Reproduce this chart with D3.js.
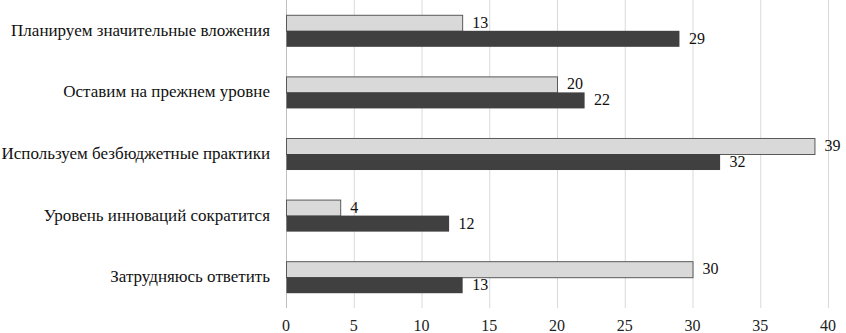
<!DOCTYPE html>
<html>
<head>
<meta charset="utf-8">
<script src="https://cdn.jsdelivr.net/npm/d3@7"></script>
<style>
  body { margin: 0; background: #fff; }
</style>
</head>
<body>
<svg id="chart" width="846" height="333"></svg>
<script>
var categories = [
    'Планируем значительные вложения',
    'Оставим на прежнем уровне',
    'Используем безбюджетные практики',
    'Уровень инноваций сократится',
    'Затрудняюсь ответить'
]
var seriesLight = [13, 20, 39, 4, 30]
var seriesDark = [29, 22, 32, 12, 13]
var ticks = [0, 5, 10, 15, 20, 25, 30, 35, 40]

var width = 846, height = 333
var margin = { top: 0, right: 18, bottom: 25, left: 286 }
var serif = "'Times New Roman', Tinos, 'Liberation Serif', 'Noto Serif', 'DejaVu Serif', serif"

var svg = d3.select('#chart')
    .style('font-family', serif)

var x = d3.scaleLinear()
    .domain([0, 40])
    .range([margin.left, width - margin.right])

var y = d3.scaleBand()
    .domain(categories)
    .range([margin.top, height - margin.bottom])
    .paddingInner(0.48)
    .paddingOuter(0.24)

var sub = d3.scaleBand()
    .domain(['light', 'dark'])
    .range([0, y.bandwidth()])

var rows = categories.map((c, i) => ({ cat: c, light: seriesLight[i], dark: seriesDark[i] }))

// grid
svg.selectAll('.grid')
    .data(ticks.slice(1))
    .join('line')
    .attr('class', 'grid')
    .attr('x1', d => x(d) + 0.5)
    .attr('x2', d => x(d) + 0.5)
    .attr('y1', margin.top)
    .attr('y2', height - margin.bottom)
    .attr('stroke', '#d9d9d9')
    .attr('stroke-width', 1)

// left axis line
svg.append('line')
    .attr('x1', x(0) + 0.5)
    .attr('x2', x(0) + 0.5)
    .attr('y1', margin.top)
    .attr('y2', height - margin.bottom)
    .attr('stroke', '#bfbfbf')

// bottom tick labels
svg.selectAll('.tick-label')
    .data(ticks)
    .join('text')
    .attr('class', 'tick-label')
    .attr('x', d => x(d))
    .attr('y', height - 2)
    .attr('text-anchor', 'middle')
    .style('font-size', '16px')
    .attr('fill', '#222')
    .text(d => d)

// category labels
svg.selectAll('.cat-label')
    .data(categories)
    .join('text')
    .attr('class', 'cat-label')
    .attr('x', x(0) - 16)
    .attr('y', d => y(d) + y.bandwidth() / 2 + 5)
    .attr('text-anchor', 'end')
    .style('font-size', '17px')
    .attr('fill', '#111')
    .text(d => d)

var groups = svg.selectAll('.row')
    .data(rows)
    .join('g')
    .attr('class', 'row')
    .attr('transform', d => 'translate(0,' + y(d.cat) + ')')

groups.append('rect')
    .attr('x', x(0) + 0.5)
    .attr('y', sub('light') + 0.5)
    .attr('width', d => x(d.light) - x(0))
    .attr('height', sub.bandwidth())
    .attr('fill', '#d9d9d9')
    .attr('stroke', '#595959')
    .attr('stroke-width', 1)

groups.append('rect')
    .attr('x', x(0) + 0.5)
    .attr('y', sub('dark'))
    .attr('width', d => x(d.dark) - x(0))
    .attr('height', sub.bandwidth())
    .attr('fill', '#404040')

groups.append('text')
    .attr('x', d => x(d.light) + 10)
    .attr('y', sub('light') + sub.bandwidth() / 2 + 5)
    .style('font-size', '16px')
    .attr('fill', '#111')
    .text(d => d.light)

groups.append('text')
    .attr('x', d => x(d.dark) + 10)
    .attr('y', sub('dark') + sub.bandwidth() / 2 + 5)
    .style('font-size', '16px')
    .attr('fill', '#111')
    .text(d => d.dark)
</script>
</body>
</html>
